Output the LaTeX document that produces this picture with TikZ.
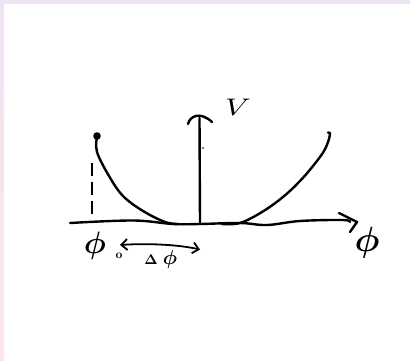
\documentclass[tikz,border=0pt]{standalone}
\usepackage{bm}
\usetikzlibrary{arrows.meta}
\definecolor{lav}{HTML}{EFE4F4}
\definecolor{pinkb}{HTML}{FDE6EB}
\begin{document}
\begin{tikzpicture}[x=1pt,y=-1pt,
  ink/.style={line width=2.4pt,line cap=round,line join=round,black},
  lbl/.style={inner sep=0pt,outer sep=0pt}]
\useasboundingbox (0,0) rectangle (410,361);
\fill[lav] (0,0) rectangle (410,4.5);
\shade[top color=lav,bottom color=pinkb] (0,0) rectangle (4,361);
% horizontal axis (wavy)
\coordinate (hs) at (70,223);
\coordinate (he) at (350,222);
\draw[ink] plot[smooth,tension=0.6] coordinates {(70,223) (133,220.5) (173,224) (200,224) (240,223) (267,225) (300,221) (343,220) (350,222)};
\draw[ink] (339,213) -- (357,222) -- (350,232);
% vertical axis
\coordinate (vb) at (200,223);
\coordinate (vt) at (199.5,118);
\draw[ink] (vb) -- (vt);
\draw[ink] (188,124) .. controls (190,116) and (200,111) .. (212,122);
\fill (203,148) circle (0.9);
% left curve with dot
\coordinate (p0) at (97,136);
\fill (p0) circle (3.8);
\draw[ink] plot[smooth,tension=0.6] coordinates {(97,137) (97,152) (109,176) (123,196) (143,211) (165,222) (178,224)};
% dashed drop line
\coordinate (d0) at (92,163);
\coordinate (d1) at (92,217);
\draw[ink,line cap=butt,dash pattern=on 13pt off 6pt] (d0) -- (d1);
% right curve
\draw[ink] plot[smooth,tension=0.6] coordinates {(222,224) (240,223) (262,212) (283,197) (300,181) (313,166) (324,151) (329,139) (330,133)};
\draw[ink] (330,133) -- (328,132.5);
% labels
\node[lbl,xscale=3.2,yscale=2.4] (V) at (238,107) {$V$};
\node[lbl,scale=3.5] (phi) at (367,243) {$\bm{\phi}$};
\node[lbl,scale=3.1] (phi0) at (95,246) {$\bm{\phi}$};
\node[lbl,scale=1.2] (sub0) at (119,256) {$\mathbf{o}$};
\coordinate (da) at (120,245);
\coordinate (db) at (200,249.5);
\draw[ink,line width=1.8pt,{Straight Barb[length=6pt,width=11pt]}-{Straight Barb[length=6pt,width=11pt]}] (da) .. controls (150,243) and (180,245) .. (db);
\node[lbl,scale=1.4] (dD) at (151,260) {$\bm{\Delta}$};
\node[lbl,scale=2.0] (dphi) at (170,259) {$\bm{\phi}$};
\end{tikzpicture}
\end{document}
